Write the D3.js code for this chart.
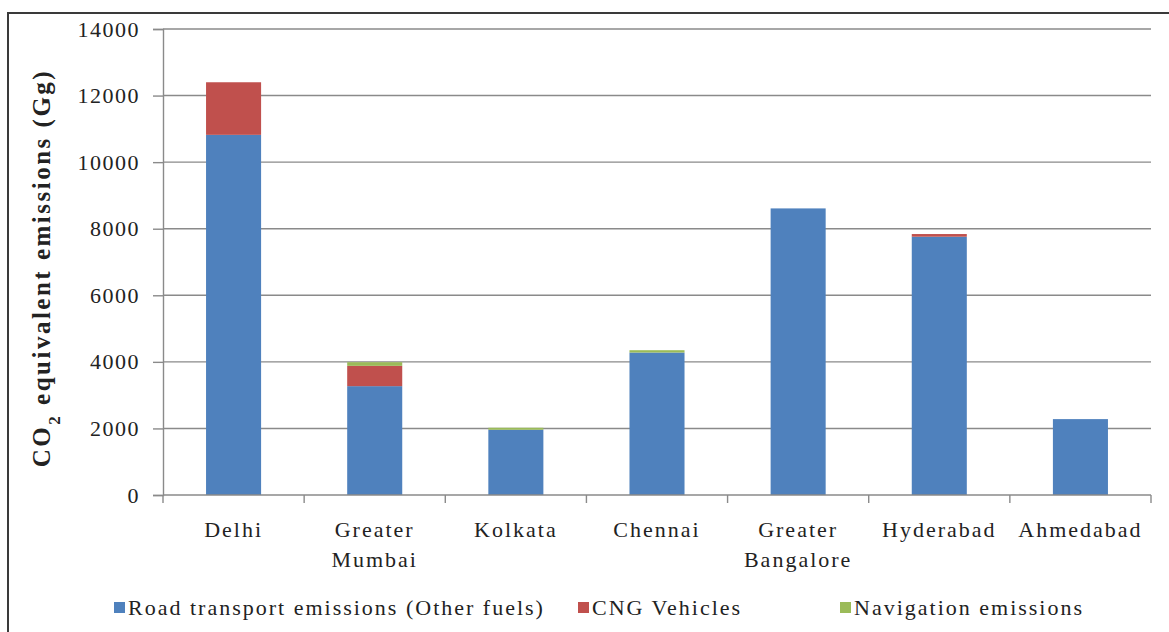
<!DOCTYPE html>
<html>
<head>
<meta charset="utf-8">
<script src="https://cdn.jsdelivr.net/npm/d3@7"></script>
<style>
  html, body { margin: 0; padding: 0; background: #fff; }
  svg { display: block; }
  svg text { font-family: "Liberation Serif", "Times New Roman", Times, "DejaVu Serif", serif; fill: #222; }
</style>
</head>
<body>
<svg id="chart" width="1169" height="632"></svg>
<script>
// City-wise CO2 equivalent emissions from transport (Gg)
const cities = ["Delhi", "Greater Mumbai", "Kolkata", "Chennai", "Greater Bangalore", "Hyderabad", "Ahmedabad"];
const cityLines = [["Delhi"], ["Greater", "Mumbai"], ["Kolkata"], ["Chennai"], ["Greater", "Bangalore"], ["Hyderabad"], ["Ahmedabad"]];
const roadTransport = [10820, 3270, 1960, 4280, 8610, 7760, 2280];
const cngVehicles   = [1580, 610, 0, 0, 0, 80, 0];
const navigation    = [0, 110, 60, 70, 0, 0, 0];
const seriesNames = ["Road transport emissions (Other fuels)", "CNG Vehicles", "Navigation emissions"];
const seriesColors = ["#4f81bd", "#c0504d", "#9bbb59"];
const yTicks = [0, 2000, 4000, 6000, 8000, 10000, 12000, 14000];

const svg = d3.select("#chart");
const plotLeft = 163, plotRight = 1151, plotTop = 29, plotBottom = 495;
const axisGrey = "#8a8a8a";

const x = d3.scaleBand().domain(cities).range([plotLeft, plotRight]).paddingInner(0.61).paddingOuter(0.305);
const y = d3.scaleLinear().domain([0, 14000]).range([plotBottom, plotTop]);

// frame
svg.append("line").attr("x1", 8).attr("x2", 1169).attr("y1", 13).attr("y2", 13)
  .attr("stroke", "#3a3a3a").attr("stroke-width", 2);
svg.append("line").attr("x1", 8).attr("x2", 8).attr("y1", 12).attr("y2", 632)
  .attr("stroke", "#3a3a3a").attr("stroke-width", 2);

// gridlines
svg.append("g").selectAll("line").data(yTicks.filter(d => d > 0)).join("line")
  .attr("x1", plotLeft).attr("x2", plotRight)
  .attr("y1", d => y(d)).attr("y2", d => y(d))
  .attr("stroke", axisGrey).attr("stroke-width", 1.4);

// stacked bars
const rows = cities.map((c, i) => ({ city: c, s0: roadTransport[i], s1: cngVehicles[i], s2: navigation[i] }));
const stack = d3.stack().keys(["s0", "s1", "s2"])(rows);
svg.append("g").selectAll("g").data(stack).join("g")
  .attr("fill", (d, i) => seriesColors[i])
  .selectAll("rect").data(d => d).join("rect")
  .attr("x", d => x(d.data.city))
  .attr("width", x.bandwidth())
  .attr("y", d => y(d[1]))
  .attr("height", d => y(d[0]) - y(d[1]));

// y axis
const yAxis = d3.axisLeft(y).tickValues(yTicks).tickSize(10).tickPadding(13).tickFormat(d3.format("d"));
const gy = svg.append("g").attr("transform", `translate(${plotLeft},0)`).call(yAxis);
gy.attr("font-family", null);
gy.select(".domain").attr("stroke", axisGrey).attr("stroke-width", 1.4);
gy.selectAll(".tick line").attr("stroke", axisGrey).attr("stroke-width", 1.4);
gy.selectAll(".tick text").attr("font-size", 22).attr("letter-spacing", 1.5).attr("fill", "#222");

// x axis baseline with category boundary ticks
svg.append("line").attr("x1", plotLeft).attr("x2", plotRight).attr("y1", plotBottom).attr("y2", plotBottom)
  .attr("stroke", axisGrey).attr("stroke-width", 1.4);
const step = x.step();
svg.append("g").selectAll("line").data(d3.range(cities.length + 1)).join("line")
  .attr("x1", i => plotLeft + i * step).attr("x2", i => plotLeft + i * step)
  .attr("y1", plotBottom).attr("y2", plotBottom + 8)
  .attr("stroke", axisGrey).attr("stroke-width", 1.4);

// category labels
const lab = svg.append("g").selectAll("text").data(cities).join("text")
  .attr("x", d => x(d) + x.bandwidth() / 2)
  .attr("y", 537)
  .attr("text-anchor", "middle")
  .attr("font-size", 22)
  .attr("letter-spacing", 2);
lab.selectAll("tspan").data((d, i) => cityLines[i]).join("tspan")
  .attr("x", function() { return d3.select(this.parentNode).attr("x"); })
  .attr("dy", (d, i) => i === 0 ? 0 : 30)
  .text(d => d);

// y axis title
svg.append("text")
  .attr("transform", "translate(50,268) rotate(-90)")
  .attr("text-anchor", "middle")
  .attr("font-size", 25)
  .attr("font-weight", "bold")
  .attr("letter-spacing", 2.5)
  .html('CO<tspan baseline-shift="sub" font-size="17">2</tspan> equivalent emissions (Gg)');

// legend
const legendX = [114, 578, 840];
const lg = svg.append("g").selectAll("g").data(seriesNames).join("g")
  .attr("transform", (d, i) => `translate(${legendX[i]},602)`);
lg.append("rect").attr("width", 11).attr("height", 11).attr("fill", (d, i) => seriesColors[i]);
lg.append("text").attr("x", 14).attr("y", 13).attr("font-size", 22).attr("letter-spacing", 2).text(d => d);
</script>
</body>
</html>
